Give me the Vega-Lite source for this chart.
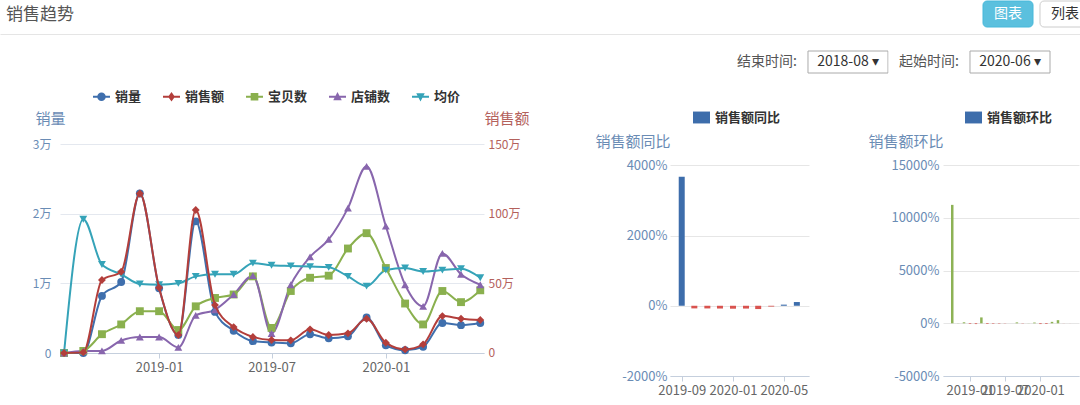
{
  "$schema": "https://vega.github.io/schema/vega-lite/v6.json",
  "padding": 0,
  "background": "#ffffff",
  "config": {
    "font": "Noto Sans CJK SC",
    "view": {"stroke": null}
  },
  "datasets": {
    "趋势": [
      {"月份": "2018-08-01", "销量": 0, "销售额": 0, "宝贝数": 0, "店铺数": 0, "均价": 0},
      {"月份": "2018-09-01", "销量": 0, "销售额": 4500, "宝贝数": 300, "店铺数": 300, "均价": 19200},
      {"月份": "2018-10-01", "销量": 8200, "销售额": 524000, "宝贝数": 2700, "店铺数": 300, "均价": 12700},
      {"月份": "2018-11-01", "销量": 10200, "销售额": 583000, "宝贝数": 4100, "店铺数": 1800, "均价": 11300},
      {"月份": "2018-12-01", "销量": 22900, "销售额": 1145000, "宝贝数": 6000, "店铺数": 2300, "均价": 9900},
      {"月份": "2019-01-01", "销量": 9300, "销售额": 469000, "宝贝数": 6000, "店铺数": 2300, "均价": 9800},
      {"月份": "2019-02-01", "销量": 2600, "销售额": 129000, "宝贝数": 3300, "店铺数": 800, "均价": 10000},
      {"月份": "2019-03-01", "销量": 18900, "销售额": 1026000, "宝贝数": 6700, "店铺数": 5400, "均价": 11000},
      {"月份": "2019-04-01", "销量": 5900, "销售额": 344000, "宝贝数": 7900, "店铺数": 6200, "均价": 11300},
      {"月份": "2019-05-01", "销量": 3200, "销售额": 186000, "宝贝数": 8400, "店铺数": 8400, "均价": 11300},
      {"月份": "2019-06-01", "销量": 1700, "销售额": 115000, "宝贝数": 11000, "店铺数": 11100, "均价": 12900},
      {"月份": "2019-07-01", "销量": 1500, "销售额": 93000, "宝贝数": 3600, "店铺数": 2800, "均价": 12600},
      {"月份": "2019-08-01", "销量": 1400, "销售额": 91000, "宝贝数": 8900, "店铺数": 9800, "均价": 12500},
      {"月份": "2019-09-01", "销量": 2700, "销售额": 170000, "宝贝数": 10800, "店铺数": 13800, "均价": 12400},
      {"月份": "2019-10-01", "销量": 2100, "销售额": 129000, "宝贝数": 11100, "店铺数": 16300, "均价": 12300},
      {"月份": "2019-11-01", "销量": 2400, "销售额": 141000, "宝贝数": 15000, "店铺数": 20800, "均价": 11000},
      {"月份": "2019-12-01", "销量": 5100, "销售额": 246000, "宝贝数": 17200, "店铺数": 26800, "均价": 9600},
      {"月份": "2020-01-01", "销量": 1100, "销售额": 74000, "宝贝数": 12200, "店铺数": 18200, "均价": 11900},
      {"月份": "2020-02-01", "销量": 400, "销售额": 26000, "宝贝数": 7100, "店铺数": 9800, "均价": 12200},
      {"月份": "2020-03-01", "销量": 900, "销售额": 62000, "宝贝数": 4100, "店铺数": 6700, "均价": 11700},
      {"月份": "2020-04-01", "销量": 4300, "销售额": 265000, "宝贝数": 8900, "店铺数": 14300, "均价": 11900},
      {"月份": "2020-05-01", "销量": 4000, "销售额": 246000, "宝贝数": 7300, "店铺数": 11300, "均价": 12100},
      {"月份": "2020-06-01", "销量": 4300, "销售额": 237000, "宝贝数": 9000, "店铺数": 9800, "均价": 10800}
    ],
    "同比": [
      {"月份": "2019-09-01", "同比": 3670, "系列": "销售额同比"},
      {"月份": "2019-10-01", "同比": -75, "系列": "销售额同比"},
      {"月份": "2019-11-01", "同比": -76, "系列": "销售额同比"},
      {"月份": "2019-12-01", "同比": -79, "系列": "销售额同比"},
      {"月份": "2020-01-01", "同比": -84, "系列": "销售额同比"},
      {"月份": "2020-02-01", "同比": -80, "系列": "销售额同比"},
      {"月份": "2020-03-01", "同比": -94, "系列": "销售额同比"},
      {"月份": "2020-04-01", "同比": -23, "系列": "销售额同比"},
      {"月份": "2020-05-01", "同比": 32, "系列": "销售额同比"},
      {"月份": "2020-06-01", "同比": 106, "系列": "销售额同比"}
    ],
    "环比": [
      {"月份": "2018-10-01", "环比": 11240, "系列": "销售额环比"},
      {"月份": "2018-11-01", "环比": 11, "系列": "销售额环比"},
      {"月份": "2018-12-01", "环比": 96, "系列": "销售额环比"},
      {"月份": "2019-01-01", "环比": -59, "系列": "销售额环比"},
      {"月份": "2019-02-01", "环比": -72, "系列": "销售额环比"},
      {"月份": "2019-03-01", "环比": 560, "系列": "销售额环比"},
      {"月份": "2019-04-01", "环比": -66, "系列": "销售额环比"},
      {"月份": "2019-05-01", "环比": -46, "系列": "销售额环比"},
      {"月份": "2019-06-01", "环比": -38, "系列": "销售额环比"},
      {"月份": "2019-07-01", "环比": -19, "系列": "销售额环比"},
      {"月份": "2019-08-01", "环比": -2, "系列": "销售额环比"},
      {"月份": "2019-09-01", "环比": 87, "系列": "销售额环比"},
      {"月份": "2019-10-01", "环比": -24, "系列": "销售额环比"},
      {"月份": "2019-11-01", "环比": 9, "系列": "销售额环比"},
      {"月份": "2019-12-01", "环比": 74, "系列": "销售额环比"},
      {"月份": "2020-01-01", "环比": -70, "系列": "销售额环比"},
      {"月份": "2020-02-01", "环比": -65, "系列": "销售额环比"},
      {"月份": "2020-03-01", "环比": 138, "系列": "销售额环比"},
      {"月份": "2020-04-01", "环比": 300, "系列": "销售额环比"},
      {"月份": "2020-05-01", "环比": -7, "系列": "销售额环比"},
      {"月份": "2020-06-01", "环比": -4, "系列": "销售额环比"}
    ],
    "按钮": [{"按钮": "图表"}, {"按钮": "列表"}],
    "筛选": [
      {"控件": "结束时间:", "类": "标签"},
      {"控件": "2018-08 ▾", "类": "下拉"},
      {"控件": "起始时间:", "类": "标签"},
      {"控件": "2020-06 ▾", "类": "下拉"}
    ]
  },
  "vconcat": [
    {
      "width": 1030,
      "height": 26,
      "layer": [
        {
          "data": {"values": [{"标题": "销售趋势"}]},
          "encoding": {
            "x": {
              "field": "标题", "type": "nominal", "bandPosition": 0,
              "scale": {"type": "band", "range": [-60, 1030], "paddingInner": 0, "paddingOuter": 0},
              "axis": {"orient": "bottom", "title": null, "labels": false, "ticks": false, "domain": true, "domainColor": "#e5e5e5", "offset": 7}
            }
          },
          "layer": [
            {"mark": {"type": "rect", "fill": "#ffffff"}},
            {
              "mark": {"type": "text", "align": "left", "baseline": "middle", "fontSize": 17, "color": "#555555", "dx": 6, "dy": 1},
              "encoding": {"text": {"field": "标题"}}
            }
          ]
        },
        {
          "data": {"name": "按钮"},
          "encoding": {
            "x": {
              "field": "按钮", "type": "nominal", "sort": null,
              "scale": {"type": "band", "domain": ["图表", "列表"], "range": [923, 1030], "paddingInner": 0.1228, "paddingOuter": 0},
              "axis": null
            }
          },
          "layer": [
            {
              "mark": {"type": "rect", "cornerRadius": 4, "strokeWidth": 1},
              "encoding": {
                "fill": {"field": "按钮", "type": "nominal", "scale": {"domain": ["图表", "列表"], "range": ["#5bc0de", "#ffffff"]}, "legend": null},
                "stroke": {"field": "按钮", "type": "nominal", "scale": {"domain": ["图表", "列表"], "range": ["#46b8da", "#cccccc"]}, "legend": null}
              }
            },
            {
              "mark": {"type": "text", "fontSize": 14, "baseline": "middle"},
              "encoding": {
                "text": {"field": "按钮"},
                "color": {"field": "按钮", "type": "nominal", "scale": {"domain": ["图表", "列表"], "range": ["#ffffff", "#333333"]}, "legend": null}
              }
            }
          ]
        }
      ],
      "resolve": {"scale": {"x": "independent"}}
    },
    {
      "vconcat": [
        {
          "width": 990,
          "height": 22,
          "data": {"name": "筛选"},
          "encoding": {
            "x": {
              "field": "控件", "type": "nominal", "sort": null,
              "scale": {"type": "band", "domain": ["结束时间:", "2018-08 ▾", "起始时间:", "2020-06 ▾"], "range": [667, 990], "paddingInner": 0.0123, "paddingOuter": 0},
              "axis": null
            }
          },
          "layer": [
            {
              "mark": {"type": "rect", "fill": "#ffffff", "strokeWidth": 1},
              "encoding": {
                "stroke": {"field": "类", "type": "nominal", "scale": {"domain": ["标签", "下拉"], "range": ["#ffffff", "#aaaaaa"]}, "legend": null}
              }
            },
            {
              "mark": {"type": "text", "fontSize": 14, "baseline": "middle"},
              "encoding": {
                "text": {"field": "控件"},
                "color": {"field": "类", "type": "nominal", "scale": {"domain": ["标签", "下拉"], "range": ["#555555", "#333333"]}, "legend": null}
              }
            }
          ]
        },
        {
          "hconcat": [
            {
              "width": 424,
              "height": 232,
              "data": {"name": "趋势"},
              "layer": [
                {
                  "transform": [{"fold": ["销量", "宝贝数", "店铺数", "均价"], "as": ["系列", "值"]}],
                  "encoding": {
                    "x": {
                      "field": "月份", "type": "temporal",
                      "scale": {"type": "utc", "domain": [{"year": 2018, "month": 7, "date": 25, "hours": 12, "utc": true}, {"year": 2020, "month": 6, "date": 7, "utc": true}]},
                      "axis": {"values": [{"year": 2019, "month": 1, "date": 1, "utc": true}, {"year": 2019, "month": 7, "date": 1, "utc": true}, {"year": 2020, "month": 1, "date": 1, "utc": true}], "format": "%Y-%m", "title": null, "offset": -23, "grid": false, "domainColor": "#c5cfdd", "tickColor": "#c5cfdd", "tickSize": 5, "labelColor": "#666666", "labelFontSize": 13, "labelPadding": 3, "labelFlush": false}
                    },
                    "y": {
                      "field": "值", "type": "quantitative",
                      "scale": {"domain": [-3301, 30000]},
                      "axis": {"orient": "left", "values": [0, 10000, 20000, 30000], "labelExpr": "datum.value == 0 ? '0' : datum.value / 10000 + '万'", "grid": true, "gridColor": "#e4e8ef", "domain": false, "ticks": false, "labelColor": "#6a8cb5", "labelFontSize": 12, "labelPadding": 9, "title": "销量", "titleAngle": 0, "titleAlign": "left", "titleBaseline": "middle", "titleX": -25, "titleY": -26, "titleColor": "#6a8cb5", "titleFontSize": 15, "titleFontWeight": "normal"}
                    }
                  },
                  "layer": [
                    {
                      "mark": {"type": "line", "interpolate": "monotone", "strokeWidth": 2},
                      "encoding": {
                        "color": {"field": "系列", "type": "nominal", "scale": {"domain": ["销量", "销售额", "宝贝数", "店铺数", "均价"], "range": ["#3f6fad", "#b33e3b", "#8ab04e", "#8866ad", "#35a3b8"]}, "legend": null}
                      }
                    },
                    {
                      "mark": {"type": "point", "filled": true, "opacity": 1, "size": 62},
                      "encoding": {
                        "color": {"field": "系列", "type": "nominal", "scale": {"domain": ["销量", "销售额", "宝贝数", "店铺数", "均价"], "range": ["#3f6fad", "#b33e3b", "#8ab04e", "#8866ad", "#35a3b8"]}, "legend": null},
                        "shape": {"field": "系列", "type": "nominal", "scale": {"domain": ["销量", "宝贝数", "店铺数", "均价"], "range": ["circle", "square", "triangle-up", "triangle-down"]}, "legend": null}
                      }
                    },
                    {
                      "mark": {"type": "point", "filled": true, "opacity": 0},
                      "encoding": {
                        "color": {
                          "field": "系列", "type": "nominal",
                          "scale": {"domain": ["销量", "销售额", "宝贝数", "店铺数", "均价"], "range": ["#3f6fad", "#b33e3b", "#8ab04e", "#8866ad", "#35a3b8"]},
                          "legend": {"orient": "none", "legendX": 33, "legendY": -56, "direction": "horizontal", "title": null, "symbolSize": 289, "labelFontSize": 13, "labelColor": "#333333", "labelFontWeight": "bold", "columnPadding": 21, "labelOffset": 5, "symbolStrokeWidth": 0, "padding": 0, "symbolOpacity": 1}
                        },
                        "shape": {
                          "field": "系列", "type": "nominal",
                          "scale": {
                            "domain": ["销量", "销售额", "宝贝数", "店铺数", "均价"],
                            "range": [
                              "M-1,-0.12H1V0.12H-1Z M0.5,0A0.5,0.5 0 1,1 -0.5,0A0.5,0.5 0 1,1 0.5,0Z",
                              "M-1,-0.12H1V0.12H-1Z M0,-0.55L0.4,0L0,0.55L-0.4,0Z",
                              "M-1,-0.12H1V0.12H-1Z M-0.45,-0.45H0.45V0.45H-0.45Z",
                              "M-1,-0.12H1V0.12H-1Z M0,-0.55L0.5,0.4H-0.5Z",
                              "M-1,-0.12H1V0.12H-1Z M-0.5,-0.4H0.5L0,0.55Z"
                            ]
                          },
                          "legend": {"orient": "none", "legendX": 33, "legendY": -56, "direction": "horizontal", "title": null, "symbolSize": 289, "labelFontSize": 13, "labelColor": "#333333", "labelFontWeight": "bold", "columnPadding": 21, "labelOffset": 5, "symbolStrokeWidth": 0, "padding": 0, "symbolOpacity": 1}
                        }
                      }
                    }
                  ],
                  "resolve": {"scale": {"color": "independent", "shape": "independent"}}
                },
                {
                  "encoding": {
                    "x": {
                      "field": "月份", "type": "temporal",
                      "scale": {"type": "utc", "domain": [{"year": 2018, "month": 7, "date": 25, "hours": 12, "utc": true}, {"year": 2020, "month": 6, "date": 7, "utc": true}]},
                      "axis": {"values": [{"year": 2019, "month": 1, "date": 1, "utc": true}, {"year": 2019, "month": 7, "date": 1, "utc": true}, {"year": 2020, "month": 1, "date": 1, "utc": true}], "format": "%Y-%m", "title": null, "offset": -23, "grid": false, "domainColor": "#c5cfdd", "tickColor": "#c5cfdd", "tickSize": 5, "labelColor": "#666666", "labelFontSize": 13, "labelPadding": 3, "labelFlush": false}
                    },
                    "y": {
                      "field": "销售额", "type": "quantitative",
                      "scale": {"domain": [-165072, 1500000]},
                      "axis": {"orient": "right", "values": [0, 500000, 1000000, 1500000], "labelExpr": "datum.value == 0 ? '0' : datum.value / 10000 + '万'", "grid": false, "domain": false, "ticks": false, "labelColor": "#b4615c", "labelFontSize": 12, "labelPadding": 4, "title": "销售额", "titleAngle": 0, "titleAlign": "left", "titleBaseline": "middle", "titleX": 0, "titleY": -26, "titleColor": "#b4615c", "titleFontSize": 15, "titleFontWeight": "normal"}
                    }
                  },
                  "layer": [
                    {"mark": {"type": "line", "interpolate": "monotone", "strokeWidth": 2, "color": "#b33e3b"}, "encoding": {}},
                    {"mark": {"type": "point", "filled": true, "opacity": 1, "size": 62, "shape": "diamond", "color": "#b33e3b"}}
                  ]
                }
              ],
              "resolve": {"scale": {"y": "independent", "color": "independent", "shape": "independent"}}
            },
            {
              "hconcat": [
                {
                  "width": 139,
                  "height": 232,
                  "data": {"name": "同比"},
                  "mark": {"type": "bar", "size": 6},
                  "encoding": {
                    "x": {
                      "field": "月份", "type": "temporal",
                      "scale": {"type": "utc", "domain": [{"year": 2019, "month": 8, "date": 16, "utc": true}, {"year": 2020, "month": 6, "date": 18, "utc": true}]},
                      "axis": {"values": [{"year": 2019, "month": 9, "date": 1, "utc": true}, {"year": 2020, "month": 1, "date": 1, "utc": true}, {"year": 2020, "month": 5, "date": 1, "utc": true}], "format": "%Y-%m", "title": null, "grid": false, "domainColor": "#c5cfdd", "tickColor": "#c5cfdd", "tickSize": 5, "labelColor": "#666666", "labelFontSize": 13, "labelPadding": 3, "labelFlush": false, "labelOverlap": false, "labelBound": false}
                    },
                    "y": {
                      "field": "同比", "type": "quantitative",
                      "scale": {"domain": [-2000, 4606]},
                      "axis": {"values": [-2000, 0, 2000, 4000], "labelExpr": "datum.value + '%'", "grid": true, "gridColor": "#e6e6e6", "domain": false, "ticks": false, "labelColor": "#6a8cb5", "labelFontSize": 13, "labelPadding": 3, "title": "销售额同比", "titleAngle": 0, "titleAlign": "left", "titleBaseline": "middle", "titleX": -75, "titleY": -3, "titleColor": "#6a8cb5", "titleFontSize": 15, "titleFontWeight": "normal"}
                    },
                    "color": {
                      "field": "系列", "type": "nominal",
                      "scale": {"domain": ["销售额同比"], "range": ["#3d6dab"]},
                      "condition": {"test": "datum['同比'] < 0", "value": "#d9534f"},
                      "legend": {"orient": "none", "legendX": 23, "legendY": -35, "title": null, "symbolType": "M-1,-0.7H1V0.7H-1Z", "symbolSize": 289, "symbolStrokeWidth": 0, "labelFontSize": 13, "labelColor": "#333333", "labelFontWeight": "bold", "labelOffset": 5, "padding": 0}
                    }
                  }
                },
                {
                  "width": 136,
                  "height": 232,
                  "data": {"name": "环比"},
                  "mark": {"type": "bar", "size": 2.5},
                  "encoding": {
                    "x": {
                      "field": "月份", "type": "temporal",
                      "scale": {"type": "utc", "domain": [{"year": 2018, "month": 9, "date": 9, "utc": true}, {"year": 2020, "month": 6, "date": 23, "utc": true}]},
                      "axis": {"values": [{"year": 2019, "month": 1, "date": 1, "utc": true}, {"year": 2019, "month": 7, "date": 1, "utc": true}, {"year": 2020, "month": 1, "date": 1, "utc": true}], "format": "%Y-%m", "title": null, "grid": false, "domainColor": "#c5cfdd", "tickColor": "#c5cfdd", "tickSize": 5, "labelColor": "#666666", "labelFontSize": 13, "labelPadding": 3, "labelFlush": false, "labelOverlap": false, "labelBound": false}
                    },
                    "y": {
                      "field": "环比", "type": "quantitative",
                      "scale": {"domain": [-5000, 17017]},
                      "axis": {"values": [-5000, 0, 5000, 10000, 15000], "labelExpr": "datum.value + '%'", "grid": true, "gridColor": "#e6e6e6", "domain": false, "ticks": false, "labelColor": "#6a8cb5", "labelFontSize": 13, "labelPadding": 4, "title": "销售额环比", "titleAngle": 0, "titleAlign": "left", "titleBaseline": "middle", "titleX": -75, "titleY": -3, "titleColor": "#6a8cb5", "titleFontSize": 15, "titleFontWeight": "normal"}
                    },
                    "color": {
                      "field": "系列", "type": "nominal",
                      "scale": {"domain": ["销售额环比"], "range": ["#3d6dab"]},
                      "condition": [
                        {"test": "datum['环比'] < 0", "value": "#d9534f"},
                        {"test": "datum['环比'] >= 0", "value": "#8db255"}
                      ],
                      "legend": {"orient": "none", "legendX": 22, "legendY": -35, "title": null, "symbolType": "M-1,-0.7H1V0.7H-1Z", "symbolSize": 289, "symbolStrokeWidth": 0, "labelFontSize": 13, "labelColor": "#333333", "labelFontWeight": "bold", "labelOffset": 5, "padding": 0}
                    }
                  }
                }
              ],
              "spacing": 134,
              "bounds": "flush",
              "resolve": {"scale": {"color": "independent", "fill": "independent", "stroke": "independent", "shape": "independent"}}
            }
          ],
          "spacing": 186,
          "bounds": "flush",
          "resolve": {"scale": {"color": "independent", "fill": "independent", "stroke": "independent", "shape": "independent"}}
        }
      ],
      "spacing": 71,
      "bounds": "flush",
      "resolve": {"scale": {"color": "independent", "fill": "independent", "stroke": "independent", "shape": "independent"}}
    }
  ],
  "spacing": 24,
  "bounds": "flush",
  "resolve": {"scale": {"color": "independent", "fill": "independent", "stroke": "independent", "shape": "independent"}}
}
